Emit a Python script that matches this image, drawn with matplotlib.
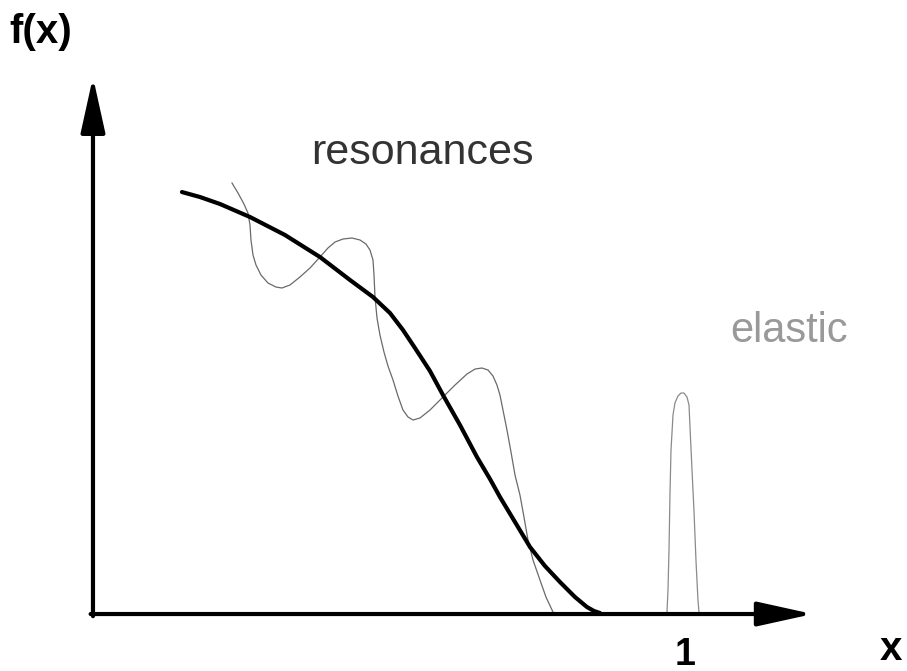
import matplotlib
matplotlib.use("Agg")
import matplotlib.pyplot as plt

# smooth structure function (thick curve)
smooth_x = [0.1508, 0.1814, 0.2153, 0.2661, 0.3254, 0.3847, 0.4356, 0.4746,
            0.5034, 0.5254, 0.5458, 0.5712, 0.5932, 0.6220, 0.6508, 0.6729,
            0.6898, 0.7153, 0.7407, 0.7661, 0.7915, 0.8169, 0.8373, 0.8492,
            0.8593]
smooth_y = [0.7858, 0.7765, 0.7635, 0.7393, 0.7058, 0.6648, 0.6220, 0.5903,
            0.5605, 0.5289, 0.4953, 0.4525, 0.4078, 0.3520, 0.2924, 0.2514,
            0.2179, 0.1713, 0.1248, 0.0894, 0.0596, 0.0317, 0.0130, 0.0056,
            0.0019]

# resonance region (thin wiggly curve)
res_x = [0.2356, 0.2458, 0.2559, 0.2627, 0.2661, 0.2678, 0.2712, 0.2763,
         0.2847, 0.2966, 0.3102, 0.3203, 0.3339, 0.3508, 0.3678, 0.3847,
         0.3983, 0.4102, 0.4237, 0.4390, 0.4525, 0.4627, 0.4695, 0.4746,
         0.4763, 0.4780, 0.4814, 0.4864, 0.4932, 0.5000, 0.5085, 0.5169,
         0.5254, 0.5339, 0.5424, 0.5542, 0.5712, 0.5932, 0.6136, 0.6339,
         0.6475, 0.6593, 0.6695, 0.6780, 0.6847, 0.6898, 0.6949, 0.7017,
         0.7085, 0.7153, 0.7237, 0.7305, 0.7373, 0.7458, 0.7576, 0.7678,
         0.7797]
res_y = [0.8026, 0.7840, 0.7635, 0.7467, 0.7244, 0.6965, 0.6685, 0.6499,
         0.6313, 0.6164, 0.6089, 0.6071, 0.6127, 0.6276, 0.6443, 0.6648,
         0.6816, 0.6927, 0.6983, 0.7002, 0.6965, 0.6890, 0.6778, 0.6592,
         0.6313, 0.5903, 0.5512, 0.5196, 0.4879, 0.4618, 0.4358, 0.4060,
         0.3799, 0.3669, 0.3613, 0.3650, 0.3799, 0.4041, 0.4264, 0.4469,
         0.4562, 0.4581, 0.4544, 0.4432, 0.4264, 0.4078, 0.3799, 0.3426,
         0.3017, 0.2588, 0.2216, 0.1806, 0.1378, 0.1006, 0.0633, 0.0317,
         0.0037]

# elastic peak at x = 1
el_x = [0.9729, 0.9746, 0.9763, 0.9780, 0.9797, 0.9831, 0.9864, 0.9915,
        0.9966, 1.0017, 1.0068, 1.0102, 1.0119, 1.0153, 1.0186, 1.0220,
        1.0254, 1.0271]
el_y = [0.0037, 0.0447, 0.1192, 0.2253, 0.3054, 0.3706, 0.3929, 0.4060,
        0.4115, 0.4115, 0.4041, 0.3892, 0.3482, 0.2682, 0.1937, 0.1006,
        0.0261, 0.0037]

x_tip = 1.22
y_tip = 1.0

fig = plt.figure(figsize=(9.07, 6.71), dpi=100)
ax = fig.add_axes([0, 0, 1, 1])
ax.set_xlim(-0.1576, 1.3797)
ax.set_ylim(-0.1061, 1.1434)
ax.axis("off")

arrow = dict(arrowstyle="-|>,head_length=34,head_width=7.5", mutation_scale=1,
             lw=3, color="black", shrinkA=0, shrinkB=0)
ax.annotate("", xy=(x_tip, 0), xytext=(-0.004, 0), arrowprops=arrow)
ax.annotate("", xy=(0, y_tip), xytext=(0, -0.004), arrowprops=arrow)

ax.plot(res_x, res_y, color="#6a6a6a", lw=0.9, solid_joinstyle="round")
ax.plot(el_x, el_y, color="#8a8a8a", lw=0.9, solid_joinstyle="round")
ax.plot(smooth_x, smooth_y, color="black", lw=3, solid_joinstyle="round",
        solid_capstyle="round")

ax.text(-0.088, 1.084, "f(x)", fontsize=29, fontweight="bold",
        family="Liberation Sans", ha="center", va="center")
ax.text(1.353, -0.065, "x", fontsize=29, fontweight="bold",
        family="Liberation Sans", ha="center", va="center")
ax.text(1.003, -0.076, "1", fontsize=27, fontweight="bold",
        family="Liberation Sans", ha="center", va="center")
ax.text(0.559, 0.838, "resonances", fontsize=31, color="#333333",
        family="Liberation Sans", ha="center", va="baseline")
ax.text(1.180, 0.5065, "elastic", fontsize=30, color="#999999",
        family="Liberation Sans", ha="center", va="baseline")

fig.savefig("out.png", dpi=100)
